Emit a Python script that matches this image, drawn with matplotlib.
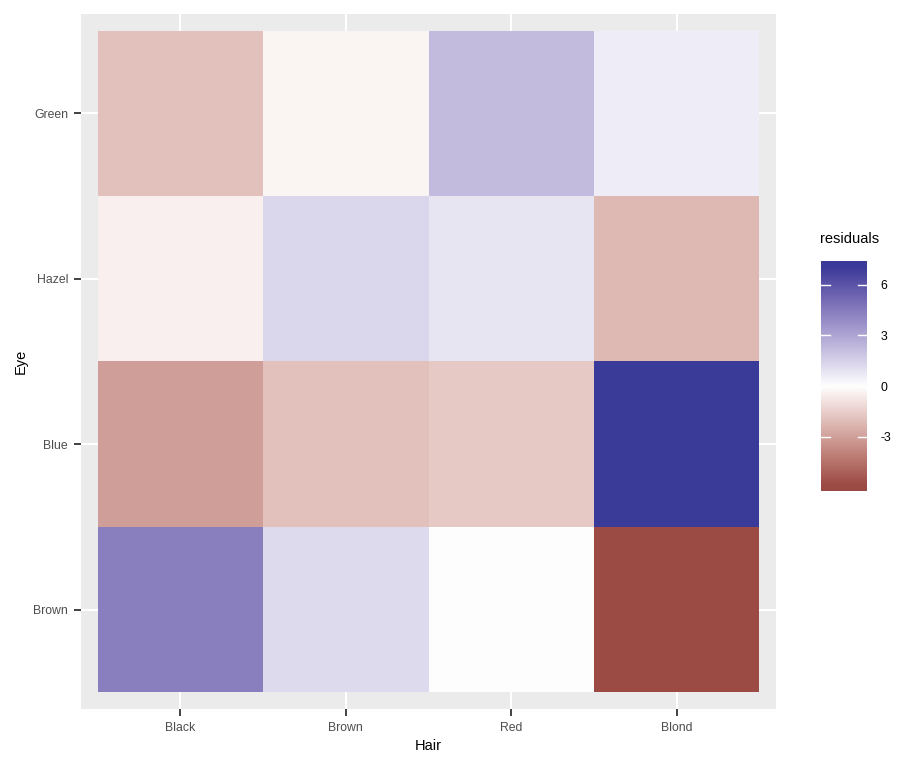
import numpy as np
import matplotlib
matplotlib.use("Agg")
import matplotlib.pyplot as plt
from matplotlib.colors import ListedColormap, Normalize

plt.rcParams['font.family'] = ['Liberation Sans', 'DejaVu Sans']

# Residuos de Pearson (HairEyeColor, sumando sexos)
hair = ['Black', 'Brown', 'Red', 'Blond']
eye = ['Brown', 'Blue', 'Hazel', 'Green']   # de abajo hacia arriba
# filas = eye, columnas = hair
residuals = np.array([
    [4.40, 1.23, -0.07, -5.85],    # Brown
    [-3.07, -1.95, -1.73, 7.05],   # Blue
    [-0.48, 1.35, 0.85, -2.23],    # Hazel
    [-1.95, -0.35, 2.28, 0.61],    # Green
])
legend_breaks = [-3, 0, 3, 6]

# --- escala tipo gradient2 (interpolación en Lab) ---
def hex2rgb(h):
    h = h.lstrip('#')
    return np.array([int(h[i:i + 2], 16) for i in (0, 2, 4)]) / 255.0

def rgb2lab(rgb):
    c = np.where(rgb > 0.04045, ((rgb + 0.055) / 1.055) ** 2.4, rgb / 12.92)
    M = np.array([[0.4124, 0.3576, 0.1805],
                  [0.2126, 0.7152, 0.0722],
                  [0.0193, 0.1192, 0.9505]])
    xyz = M @ c / np.array([0.95047, 1.0, 1.08883])
    f = np.where(xyz > 0.008856, np.cbrt(xyz), 7.787 * xyz + 16 / 116)
    return np.array([116 * f[1] - 16, 500 * (f[0] - f[1]), 200 * (f[1] - f[2])])

def lab2rgb(lab):
    L, a, b = lab
    fy = (L + 16) / 116
    fx = fy + a / 500
    fz = fy - b / 200
    f = np.array([fx, fy, fz])
    xyz = np.where(f ** 3 > 0.008856, f ** 3, (f - 16 / 116) / 7.787)
    xyz = xyz * np.array([0.95047, 1.0, 1.08883])
    Minv = np.array([[3.2406, -1.5372, -0.4986],
                     [-0.9689, 1.8758, 0.0415],
                     [0.0557, -0.2040, 1.0570]])
    c = Minv @ xyz
    c = np.where(c > 0.0031308, 1.055 * np.abs(c) ** (1 / 2.4) - 0.055, 12.92 * c)
    return np.clip(c, 0, 1)

low, mid, high = rgb2lab(hex2rgb('#832424')), rgb2lab(hex2rgb('#FFFFFF')), rgb2lab(hex2rgb('#3A3A98'))
cols = []
for t in np.linspace(0, 1, 512):
    if t < 0.5:
        lab = low + (mid - low) * (t / 0.5)
    else:
        lab = mid + (high - mid) * ((t - 0.5) / 0.5)
    cols.append(lab2rgb(lab))
cmap = ListedColormap(cols)
m = np.abs(residuals).max()
norm = Normalize(-m, m)

# --- figura ---
fig = plt.figure(figsize=(9.21, 7.68), dpi=100)
ax = fig.add_axes([81 / 921, 59 / 768, 695 / 921, 695 / 768])
ax.set_facecolor('#EBEBEB')

xe = np.arange(len(hair) + 1) + 0.5
ye = np.arange(len(eye) + 1) + 0.5
ax.pcolormesh(xe, ye, residuals, cmap=cmap, norm=norm, zorder=2)

ax.set_xlim(0.4, len(hair) + 0.6)
ax.set_ylim(0.4, len(eye) + 0.6)
ax.set_xticks(np.arange(1, len(hair) + 1))
ax.set_xticklabels(hair)
ax.set_yticks(np.arange(1, len(eye) + 1))
ax.set_yticklabels(eye)
ax.grid(True, color='white', linewidth=1.5, zorder=1)
ax.set_axisbelow(True)
for s in ax.spines.values():
    s.set_visible(False)
ax.tick_params(length=5, width=1.3, color='#333333', labelcolor='#4D4D4D',
               labelsize=8.8)
ax.tick_params(axis='y', pad=4.3)
ax.tick_params(axis='x', pad=4.3)
ax.set_xlabel('Hair', fontsize=10.5, labelpad=4)
ax.set_ylabel('Eye', fontsize=10.5, labelpad=4)

# --- barra de color ---
cax = fig.add_axes([821 / 921, 277 / 768, 46 / 921, 230 / 768])
vmin, vmax = residuals.min(), residuals.max()
ext = 5.75 / 218.5 * (vmax - vmin)
vals = np.linspace(vmin - ext, vmax + ext, 400)
grad = np.clip(vals, vmin, vmax)[:, None]
cax.imshow(grad, cmap=cmap, norm=norm, aspect='auto', origin='lower',
           extent=[0, 1, vmin - ext, vmax + ext], interpolation='bilinear')
cax.set_xlim(0, 1)
cax.set_ylim(vmin - ext, vmax + ext)
for b in legend_breaks:
    cax.plot([0, 0.2], [b, b], color='white', lw=1)
    cax.plot([0.8, 1], [b, b], color='white', lw=1)
for s in cax.spines.values():
    s.set_visible(False)
cax.set_xticks([])
cax.yaxis.tick_right()
cax.set_yticks(legend_breaks)
cax.set_yticklabels([str(b) for b in legend_breaks])
cax.tick_params(axis='y', length=0, pad=9.5, labelsize=8.8, labelcolor='black')
fig.text(820 / 921, 1 - 239 / 768, 'residuals', fontsize=10.5, ha='left', va='center')

fig.savefig('out.png', dpi=100)
